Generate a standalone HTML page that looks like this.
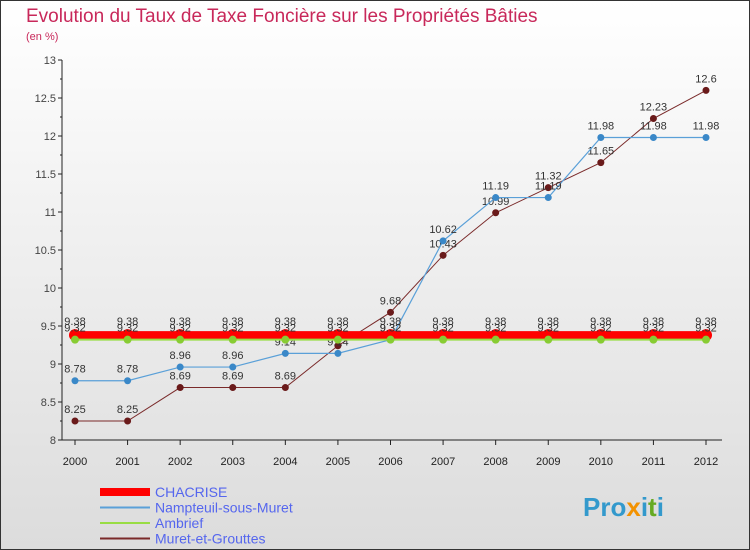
<!DOCTYPE html>
<html><head><meta charset="utf-8"><style>
body{margin:0;width:750px;height:550px;overflow:hidden;font-family:"Liberation Sans",sans-serif}
#c{position:absolute;left:0;top:0}
</style></head><body>
<svg id="c" width="750" height="550" xmlns="http://www.w3.org/2000/svg">
<defs><linearGradient id="bg" x1="0" y1="0" x2="0" y2="1"><stop offset="0" stop-color="#ffffff"/><stop offset="1" stop-color="#dcdcdc"/></linearGradient></defs>
<rect x="0.5" y="0.5" width="749" height="549" fill="url(#bg)" stroke="#333"/>
<text x="26" y="22" font-size="19" fill="#c8285a">Evolution du Taux de Taxe Foncière sur les Propriétés Bâties</text>
<text x="26" y="40" font-size="11" fill="#c8285a">(en %)</text>
<g id="axes"></g><g id="series"></g><g id="legend"></g>
<text x="583" y="516" font-size="26" font-weight="bold" fill="#3399cc">Pro<tspan fill="#f39200">x</tspan>i<tspan fill="#66aa22">t</tspan>i</text>
</svg>
<script>
const years=[2000,2001,2002,2003,2004,2005,2006,2007,2008,2009,2010,2011,2012];
const yTicks=[8,8.5,9,9.5,10,10.5,11,11.5,12,12.5,13];
const yTickLabels=["8","8.5","9","9.5","10","10.5","11","11.5","12","12.5","13"];
const chacrise=[9.38,9.38,9.38,9.38,9.38,9.38,9.38,9.38,9.38,9.38,9.38,9.38,9.38];
const nampteuil=[8.78,8.78,8.96,8.96,9.14,9.14,9.32,10.62,11.19,11.19,11.98,11.98,11.98];
const ambrief=[9.32,9.32,9.32,9.32,9.32,9.32,9.32,9.32,9.32,9.32,9.32,9.32,9.32];
const muret=[8.25,8.25,8.69,8.69,8.69,9.24,9.68,10.43,10.99,11.32,11.65,12.23,12.6];
const names=["CHACRISE","Nampteuil-sous-Muret","Ambrief","Muret-et-Grouttes"];
const NS="http://www.w3.org/2000/svg";
const X=i=>75+i*(631/12);
const Y=v=>440-(v-8)*76;
function mk(p,t,a){const e=document.createElementNS(NS,t);for(const k in a)e.setAttribute(k,a[k]);p.appendChild(e);return e;}
const ax=document.getElementById('axes');
let l=mk(ax,'line',{x1:62,y1:60,x2:62,y2:440,stroke:'#222'});


l=mk(ax,'line',{x1:62,y1:440,x2:722,y2:440,stroke:'#222'});


yTicks.forEach((v,i)=>{
 mk(ax,'line',{x1:58,y1:Y(v),x2:62,y2:Y(v),stroke:'#222'});
 if(i<yTicks.length-1) mk(ax,'line',{x1:60,y1:Y(v+0.25),x2:62,y2:Y(v+0.25),stroke:'#222'});
 const t=mk(ax,'text',{x:56,y:Y(v)+4,'font-size':11,fill:'#444','text-anchor':'end'});
 t.textContent=yTickLabels[i];
 
 
});
years.forEach((yr,i)=>{
 mk(ax,'line',{x1:X(i),y1:440,x2:X(i),y2:445,stroke:'#222'});
 const t=mk(ax,'text',{x:X(i),y:465,'font-size':11,fill:'#222','text-anchor':'middle'});
 t.textContent=yr;
 
 
});
const sg=document.getElementById('series');
function series(vals,color,w,r,fill,name,labOff){
 const g=mk(sg,'g',{});
 
 
 mk(g,'polyline',{points:vals.map((v,i)=>X(i)+','+Y(v)).join(' '),fill:'none',stroke:color,'stroke-width':w});
 vals.forEach((v,i)=>{
  const c=mk(g,'circle',{cx:X(i),cy:Y(v),r:r,fill:fill,stroke:'none'});
  
  
  const t=mk(g,'text',{x:X(i),y:Y(v)+labOff,'font-size':11,fill:'#333','text-anchor':'middle'});
  t.textContent=String(v);
  
  
 });
}
series(muret,'#7a2a2a',1,3.5,'#6a1a1a','series-muret',-8);
series(nampteuil,'#5aa0d8',1.2,3.5,'#3a88c8','series-nampteuil',-8);
series(chacrise,'#ff0000',8,6,'#ff0000','series-chacrise',-10);
series(ambrief,'#99dd44',2,4,'#88cc33','series-ambrief',-8);
const lg=document.getElementById('legend');
const lc=[['#ff0000',8],['#5aa0d8',2],['#99dd44',2],['#7a2a2a',2]];
names.forEach((n,i)=>{
 const g=mk(lg,'g',{});
 
 
 const y=492+i*15.5;
 mk(g,'line',{x1:100,y1:y,x2:150,y2:y,stroke:lc[i][0],'stroke-width':lc[i][1]});
 const t=mk(g,'text',{x:155,y:y+5,'font-size':14,fill:'#5566ee'});
 t.textContent=n;
});
</script>
</body></html>
